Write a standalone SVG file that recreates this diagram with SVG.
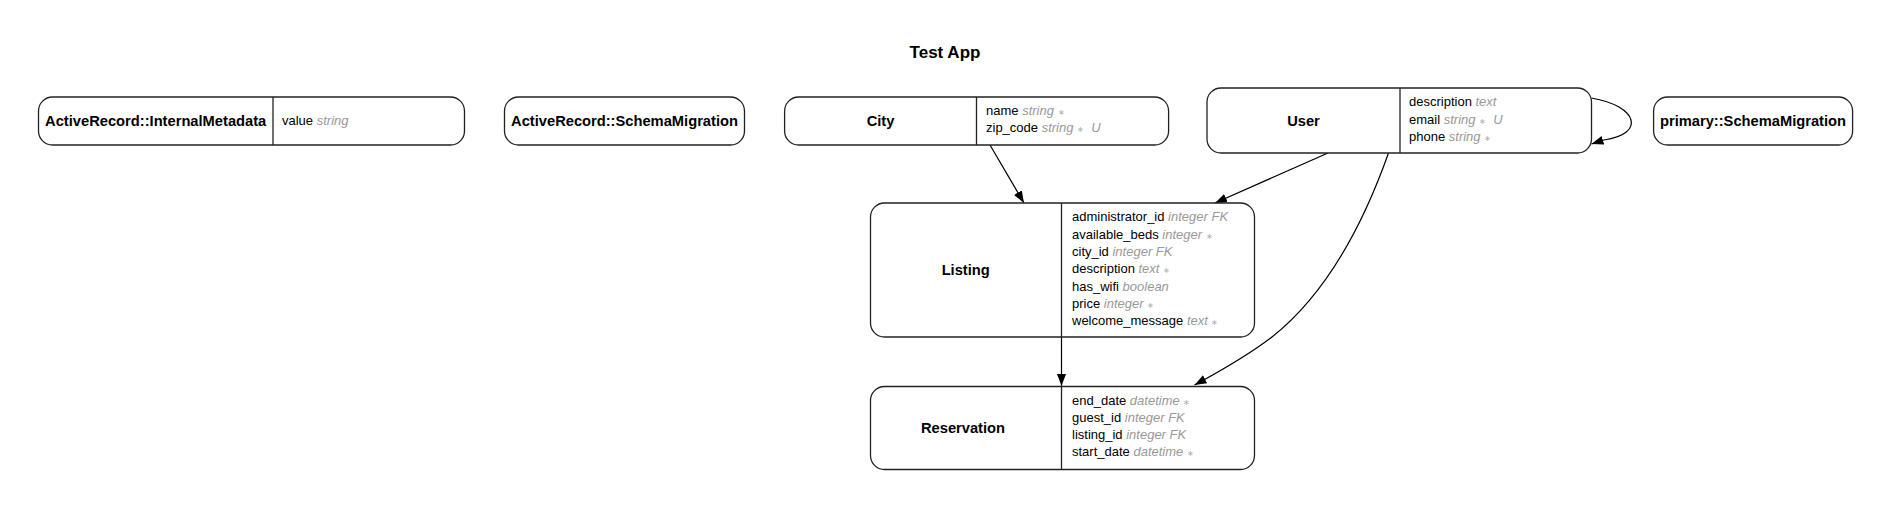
<svg xmlns="http://www.w3.org/2000/svg" width="1893" height="509" viewBox="0 0 1893 509">
<style>
.bg{fill:#fff}
.box{fill:#fff;stroke:#222;stroke-width:1.3}
.div{stroke:#222;stroke-width:1.3}
.lbl{font-family:"Liberation Sans",Arial,sans-serif;font-weight:bold;font-size:14.7px;fill:#000;text-anchor:middle}
.title{font-family:"Liberation Sans",Arial,sans-serif;font-weight:bold;font-size:17px;fill:#000;text-anchor:middle}
.att{font-family:"Liberation Sans",Arial,sans-serif;font-size:13px;fill:#000}
.t{fill:#999;font-style:italic}
.m{fill:#aaa;font-style:normal;font-size:8px}
.edge{fill:none;stroke:#000;stroke-width:1.2}
</style>
<defs>
<marker id="arr" markerUnits="userSpaceOnUse" markerWidth="13" markerHeight="10" refX="12" refY="4.5" orient="auto">
<path d="M0,0 L12,4.5 L0,9 z" fill="#000"/>
</marker>
</defs>
<rect class="bg" x="0" y="0" width="1893" height="509"/>
<text class="title" x="945" y="58">Test App</text>

<g id="connectors">
<path class="edge" d="M990,145 L1024,203" marker-end="url(#arr)"/>
<path class="edge" d="M1328,153 L1215,203" marker-end="url(#arr)"/>
<path class="edge" d="M1388.5,153 C1363,225 1325,295 1272,337 C1251,353 1228,367 1194.5,385" marker-end="url(#arr)"/>
<path class="edge" d="M1061.5,337 L1061.5,386" marker-end="url(#arr)"/>
<path class="edge" d="M1591.5,98 C1638,106 1646,134 1604,140 L1591.5,144" marker-end="url(#arr)"/>
</g>

<g id="node-internal-metadata">
<rect class="box" x="38.5" y="97" width="426" height="48" rx="14"/>
<line class="div" x1="273" y1="97" x2="273" y2="145"/>
<text class="lbl" x="155.7" y="126">ActiveRecord::InternalMetadata</text>
<text class="att" x="282" y="125">value <tspan class="t">string</tspan></text>
</g>

<g id="node-schema-migration">
<rect class="box" x="504.5" y="97" width="240" height="48" rx="14"/>
<text class="lbl" x="624.5" y="126">ActiveRecord::SchemaMigration</text>
</g>

<g id="node-city">
<rect class="box" x="784.6" y="97" width="384" height="48" rx="14"/>
<line class="div" x1="976.5" y1="97" x2="976.5" y2="145"/>
<text class="lbl" x="880.5" y="126">City</text>
<text class="att" x="986" y="114.5">name <tspan class="t">string <tspan class="m">∗</tspan></tspan></text>
<text class="att" x="986" y="132" xml:space="preserve">zip_code <tspan class="t">string <tspan class="m">∗</tspan>  U</tspan></text>
</g>

<g id="node-user">
<rect class="box" x="1207" y="88" width="384.5" height="65" rx="14"/>
<line class="div" x1="1400" y1="88" x2="1400" y2="153"/>
<text class="lbl" x="1303.5" y="126">User</text>
<text class="att" x="1409" y="105.5">description <tspan class="t">text</tspan></text>
<text class="att" x="1409" y="123.5" xml:space="preserve">email <tspan class="t">string <tspan class="m">∗</tspan>  U</tspan></text>
<text class="att" x="1409" y="141">phone <tspan class="t">string <tspan class="m">∗</tspan></tspan></text>
</g>

<g id="node-primary-schema-migration">
<rect class="box" x="1653.6" y="97" width="199" height="48" rx="14"/>
<text class="lbl" x="1753" y="126">primary::SchemaMigration</text>
</g>

<g id="node-listing">
<rect class="box" x="870.5" y="203" width="384" height="134" rx="14"/>
<line class="div" x1="1061.5" y1="203" x2="1061.5" y2="337"/>
<text class="lbl" x="965.7" y="275">Listing</text>
<text class="att" x="1072" y="221">administrator_id <tspan class="t">integer FK</tspan></text>
<text class="att" x="1072" y="238.5">available_beds <tspan class="t">integer <tspan class="m">∗</tspan></tspan></text>
<text class="att" x="1072" y="256">city_id <tspan class="t">integer FK</tspan></text>
<text class="att" x="1072" y="273">description <tspan class="t">text <tspan class="m">∗</tspan></tspan></text>
<text class="att" x="1072" y="290.5">has_wifi <tspan class="t">boolean</tspan></text>
<text class="att" x="1072" y="308">price <tspan class="t">integer <tspan class="m">∗</tspan></tspan></text>
<text class="att" x="1072" y="325">welcome_message <tspan class="t">text <tspan class="m">∗</tspan></tspan></text>
</g>

<g id="node-reservation">
<rect class="box" x="870.5" y="386.5" width="384" height="83" rx="14"/>
<line class="div" x1="1061.5" y1="386.5" x2="1061.5" y2="469.5"/>
<text class="lbl" x="963" y="432.5">Reservation</text>
<text class="att" x="1072" y="404.5">end_date <tspan class="t">datetime <tspan class="m">∗</tspan></tspan></text>
<text class="att" x="1072" y="422">guest_id <tspan class="t">integer FK</tspan></text>
<text class="att" x="1072" y="439">listing_id <tspan class="t">integer FK</tspan></text>
<text class="att" x="1072" y="456">start_date <tspan class="t">datetime <tspan class="m">∗</tspan></tspan></text>
</g>
</svg>
